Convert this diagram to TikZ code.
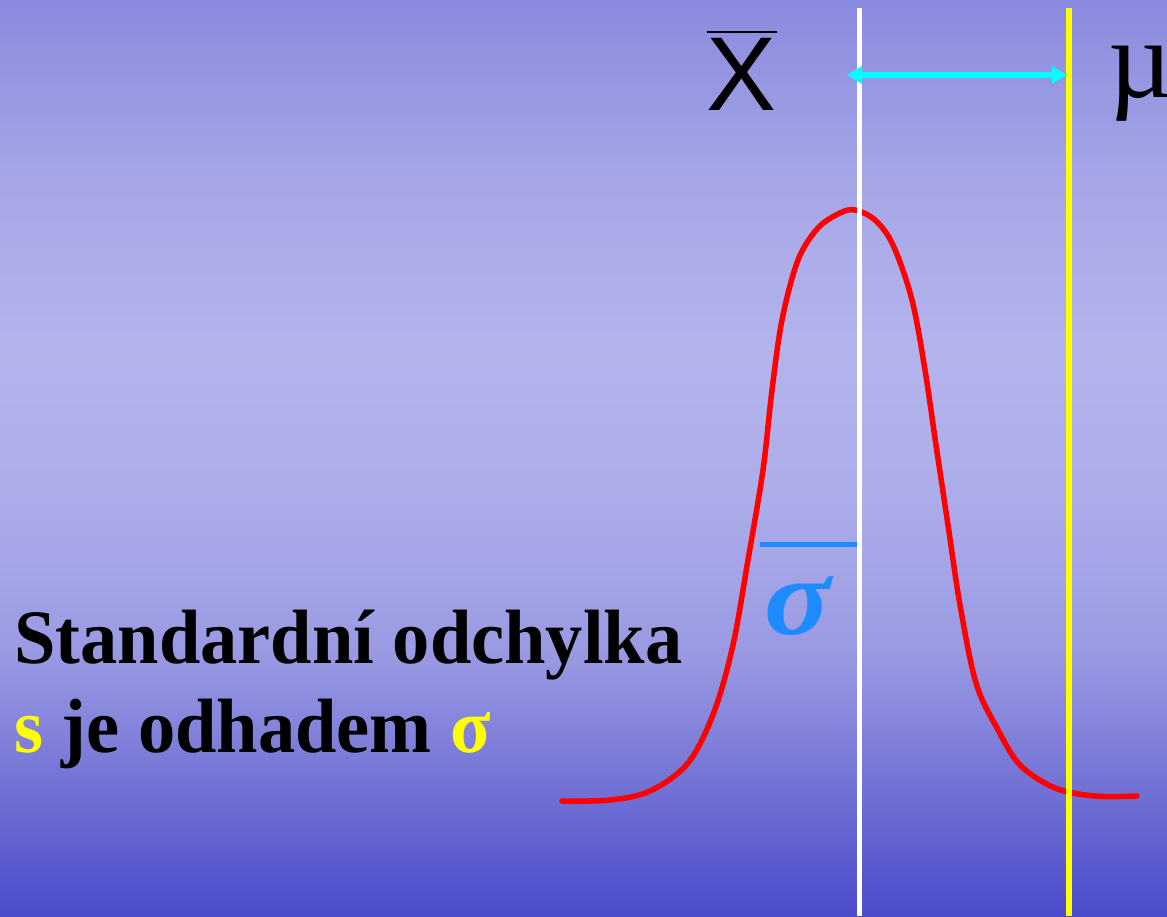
\documentclass[tikz,border=0pt]{standalone}
\usepackage{fontspec}
\setmainfont{Liberation Serif}
\newfontfamily\arialfont{Liberation Sans}
\usetikzlibrary{arrows.meta}
\definecolor{bgA}{HTML}{4B4BCC}
\definecolor{bgB}{HTML}{7474D6}
\definecolor{bgC}{HTML}{9A9AE3}
\definecolor{bgD}{HTML}{ACACEA}
\definecolor{bgE}{HTML}{B3B3EC}
\definecolor{bgF}{HTML}{A8A8E8}
\definecolor{bgG}{HTML}{8A8ADE}
\definecolor{sigblue}{HTML}{1E8CFF}
\definecolor{yel}{HTML}{FFFF00}
\definecolor{cyanarrow}{HTML}{00FFFF}
\pgfdeclareverticalshading{bgshade}{100bp}{color(0bp)=(bgA); color(25bp)=(bgA); color(32.4bp)=(bgB); color(39.5bp)=(bgC); color(47.7bp)=(bgD); color(55.9bp)=(bgE); color(64.1bp)=(bgF); color(75bp)=(bgG); color(100bp)=(bgG)}
\tikzset{
  vline/.style={line width=5pt},
  curve/.style={red, line width=5.5pt, line join=round, line cap=round},
  bigtext/.style={font=\fontsize{77}{90}\selectfont\bfseries, anchor=base west, inner sep=0pt, text=black, xscale=0.967, transform shape},
}
\begin{document}
\begin{tikzpicture}[x=1pt,y=-1pt]
\useasboundingbox (0,0) rectangle (1167,916);
\shade[shading=bgshade] (0,0) rectangle (1167,916);
% red gaussian curve
\draw[curve] plot[smooth, tension=0.55] coordinates {(562,801) (610,800) (650,791) (688,763) (714,712) (733,645) (748,560) (763,470) (772,390) (782,320) (798,260) (818,228) (840,213) (855,210) (875,220) (893,245) (912,300) (925,370) (936,445) (948,525) (960,605) (976,683) (997,728) (1020,765) (1055,788) (1095,796) (1137,796)};
% sigma bar
\coordinate (sb1) at (760,544);
\coordinate (sb2) at (857,544);
\draw[sigblue, line width=5pt] (sb1) -- (sb2);
\node[font=\fontsize{110}{120}\selectfont\bfseries\itshape, text=sigblue, inner sep=0pt, anchor=base, xscale=1.12, transform shape] (sig) at (798,634) {σ};
% vertical lines
\coordinate (wt) at (859,8);
\coordinate (wb) at (859,916);
\coordinate (yt) at (1069,8);
\coordinate (yb) at (1069,916);
\draw[vline, white] (wt) -- (wb);
\draw[vline, yel, line width=6pt] (yt) -- (yb);
% arrow
\coordinate (a1) at (847,75);
\coordinate (a2) at (1067,75);
\draw[cyanarrow, line width=6pt, {Triangle[width=17pt,length=15pt]}-{Triangle[width=17pt,length=15pt]}] (a1) -- (a2);
% labels
\node[font=\arialfont\fontsize{105}{120}\selectfont, inner sep=0pt, anchor=base] (xbar) at (742,110) {X};
\draw[black, line width=2pt] ([yshift=6pt]xbar.north west) -- ([yshift=6pt]xbar.north east);
\node[font=\fontsize{112}{120}\selectfont, inner sep=0pt, anchor=base west] (mu) at (1108,97) {µ};
\node[bigtext] (t1) at (14,663) {Standardní odchylka};
\node[bigtext] (t2) at (14,752) {\textcolor{yel}{s} je odhadem \textcolor{yel}{σ}};
\end{tikzpicture}
\end{document}
